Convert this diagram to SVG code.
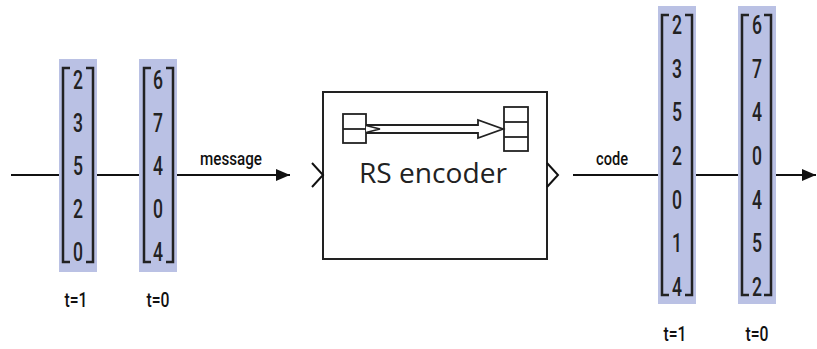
<svg xmlns="http://www.w3.org/2000/svg" width="817" height="349" viewBox="0 0 817 349">
<style>
.bg{fill:#bac1e4}
.ln{stroke:#111;stroke-width:2;fill:none}
.br{stroke:#222;stroke-width:2.5;fill:none}
.d{font-family:Roboto,"Liberation Sans",Arial,sans-serif;font-weight:500;font-size:25px;fill:#222;text-anchor:middle}
.l{font-family:Roboto,"Liberation Sans",Arial,sans-serif;font-weight:500;font-size:18px;fill:#111}
.t{font-family:Roboto,"Liberation Sans",Arial,sans-serif;font-weight:500;font-size:20px;fill:#111;text-anchor:middle}
.rs{font-family:"Open Sans","Liberation Sans",sans-serif;font-size:27px;fill:#222}
</style>
<defs>
<marker id="ah" markerWidth="14" markerHeight="12" refX="14" refY="6" orient="auto" markerUnits="userSpaceOnUse">
<path d="M0,0 L14,6 L0,12 Z" fill="#111"/>
</marker>
</defs>
<g id="connectors">
<line class="ln" x1="11" y1="175" x2="59" y2="175"/>
<line class="ln" x1="97" y1="175" x2="139" y2="175"/>
<line class="ln" x1="177" y1="175" x2="290" y2="175" marker-end="url(#ah)"/>
<text class="l" x="200" y="165" textLength="62" lengthAdjust="spacingAndGlyphs">message</text>
<line class="ln" x1="573" y1="175" x2="658" y2="175"/>
<line class="ln" x1="696" y1="175" x2="738" y2="175"/>
<line class="ln" x1="776" y1="175" x2="816" y2="175" marker-end="url(#ah)"/>
<text class="l" x="596" y="165" textLength="32" lengthAdjust="spacingAndGlyphs">code</text>
</g>
<g id="msg-t1">
<rect class="bg" x="59" y="59" width="38" height="213"/>
<path class="br" d="M70,68 H63 V262 H70 M86,68 H93 V262 H86"/>
<text class="d" x="78" y="89" textLength="10" lengthAdjust="spacingAndGlyphs">2</text>
<text class="d" x="78" y="132" textLength="10" lengthAdjust="spacingAndGlyphs">3</text>
<text class="d" x="78" y="175" textLength="10" lengthAdjust="spacingAndGlyphs">5</text>
<text class="d" x="78" y="218" textLength="10" lengthAdjust="spacingAndGlyphs">2</text>
<text class="d" x="78" y="261" textLength="10" lengthAdjust="spacingAndGlyphs">0</text>
<text class="t" x="76" y="307" textLength="23" lengthAdjust="spacingAndGlyphs">t=1</text>
</g>
<g id="msg-t0">
<rect class="bg" x="139" y="59" width="38" height="213"/>
<path class="br" d="M151,68 H144 V262 H151 M166,68 H173 V262 H166"/>
<text class="d" x="158" y="89" textLength="10" lengthAdjust="spacingAndGlyphs">6</text>
<text class="d" x="158" y="132" textLength="10" lengthAdjust="spacingAndGlyphs">7</text>
<text class="d" x="158" y="175" textLength="10" lengthAdjust="spacingAndGlyphs">4</text>
<text class="d" x="158" y="218" textLength="10" lengthAdjust="spacingAndGlyphs">0</text>
<text class="d" x="158" y="261" textLength="10" lengthAdjust="spacingAndGlyphs">4</text>
<text class="t" x="158" y="307" textLength="23" lengthAdjust="spacingAndGlyphs">t=0</text>
</g>
<g id="rs-encoder">
<rect x="323" y="92" width="224" height="167" fill="#fff" stroke="#222" stroke-width="2"/>
<polyline class="ln" points="312,163 323,175 312,187"/>
<polyline class="ln" points="547,163 558,175 547,187"/>
<rect x="343" y="114" width="23" height="29" fill="none" stroke="#222" stroke-width="1.8"/>
<line x1="343" y1="129" x2="366" y2="129" stroke="#222" stroke-width="1.8"/>
<rect x="504" y="107" width="24" height="44" fill="none" stroke="#222" stroke-width="1.8"/>
<line x1="504" y1="122" x2="528" y2="122" stroke="#222" stroke-width="1.8"/>
<line x1="504" y1="137" x2="528" y2="137" stroke="#222" stroke-width="1.8"/>
<path d="M366,125 H478 V120 L503,129 L478,138 V133 H366" fill="#fff" stroke="#222" stroke-width="1.8"/>
<polyline points="366,125.5 380,129 366,132.5" fill="none" stroke="#222" stroke-width="1.5"/>
<text class="rs" x="359" y="183" textLength="148" lengthAdjust="spacingAndGlyphs">RS encoder</text>
</g>
<g id="code-t1">
<rect class="bg" x="658" y="6" width="38" height="298"/>
<path class="br" d="M669,15 H662 V295 H669 M685,15 H692 V295 H685"/>
<text class="d" x="677" y="34" textLength="10" lengthAdjust="spacingAndGlyphs">2</text>
<text class="d" x="677" y="78" textLength="10" lengthAdjust="spacingAndGlyphs">3</text>
<text class="d" x="677" y="121" textLength="10" lengthAdjust="spacingAndGlyphs">5</text>
<text class="d" x="677" y="165" textLength="10" lengthAdjust="spacingAndGlyphs">2</text>
<text class="d" x="677" y="209" textLength="10" lengthAdjust="spacingAndGlyphs">0</text>
<text class="d" x="677" y="252" textLength="10" lengthAdjust="spacingAndGlyphs">1</text>
<text class="d" x="677" y="296" textLength="10" lengthAdjust="spacingAndGlyphs">4</text>
<text class="t" x="675" y="341" textLength="23" lengthAdjust="spacingAndGlyphs">t=1</text>
</g>
<g id="code-t0">
<rect class="bg" x="738" y="6" width="38" height="298"/>
<path class="br" d="M749,15 H742 V295 H749 M764,15 H771 V295 H764"/>
<text class="d" x="757" y="34" textLength="10" lengthAdjust="spacingAndGlyphs">6</text>
<text class="d" x="757" y="78" textLength="10" lengthAdjust="spacingAndGlyphs">7</text>
<text class="d" x="757" y="121" textLength="10" lengthAdjust="spacingAndGlyphs">4</text>
<text class="d" x="757" y="165" textLength="10" lengthAdjust="spacingAndGlyphs">0</text>
<text class="d" x="757" y="209" textLength="10" lengthAdjust="spacingAndGlyphs">4</text>
<text class="d" x="757" y="252" textLength="10" lengthAdjust="spacingAndGlyphs">5</text>
<text class="d" x="757" y="296" textLength="10" lengthAdjust="spacingAndGlyphs">2</text>
<text class="t" x="757" y="341" textLength="23" lengthAdjust="spacingAndGlyphs">t=0</text>
</g>
</svg>
